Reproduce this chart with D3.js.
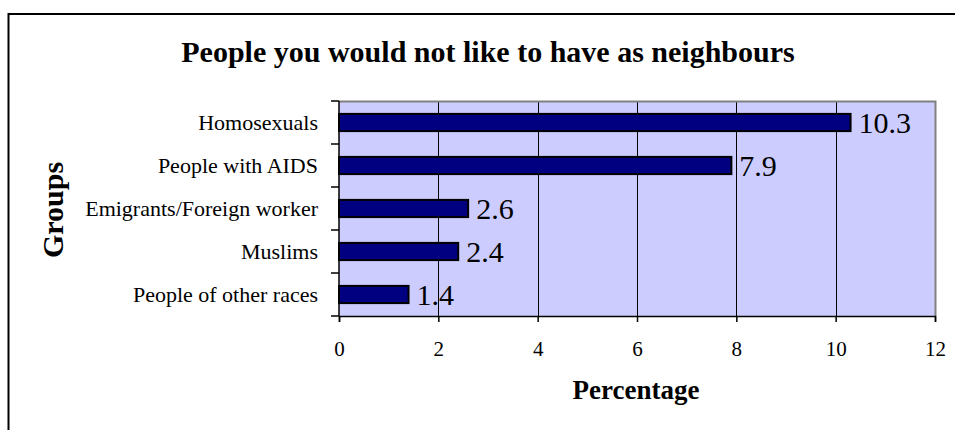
<!DOCTYPE html>
<html>
<head>
<meta charset="utf-8">
<script src="https://cdn.jsdelivr.net/npm/d3@7/dist/d3.min.js"></script>
<style>
  html, body { margin: 0; padding: 0; background: #fff; }
  svg { display: block; font-family: "Liberation Serif", "Times New Roman", serif; }
</style>
</head>
<body>
<svg id="chart" width="955" height="430"></svg>
<script>
// Survey data: share of respondents who would not want each group as neighbours
const groups = ["Homosexuals", "People with AIDS", "Emigrants/Foreign worker", "Muslims", "People of other races"];
const percentages = [10.3, 7.9, 2.6, 2.4, 1.4];
const xTicks = [0, 2, 4, 6, 8, 10, 12];

const chartTitle = "People you would not like to have as neighbours";
const xTitle = "Percentage";
const yTitle = "Groups";

const svg = d3.select("#chart");

// Outer chart frame
svg.append("rect")
  .attr("x", 8.5).attr("y", 14)
  .attr("width", 960).attr("height", 430)
  .attr("fill", "#fff")
  .attr("stroke", "#000").attr("stroke-width", 2);

const plot = { left: 339, right: 935, top: 101, bottom: 316 };

const x = d3.scaleLinear().domain([0, 12]).range([plot.left, plot.right]);
const y = d3.scaleBand().domain(groups).range([plot.top, plot.bottom]).paddingInner(0.6).paddingOuter(0.3);
const band = d3.scaleBand().domain(groups).range([plot.top, plot.bottom]);

// Plot area background
svg.append("rect")
  .attr("x", plot.left).attr("y", plot.top)
  .attr("width", plot.right - plot.left).attr("height", plot.bottom - plot.top)
  .attr("fill", "#CCCCFF");

// Vertical gridlines
svg.append("g")
  .selectAll("line")
  .data(xTicks.filter(t => t > 0 && t < 12))
  .join("line")
  .attr("x1", d => Math.round(x(d)) + 0.5).attr("x2", d => Math.round(x(d)) + 0.5)
  .attr("y1", plot.top).attr("y2", plot.bottom)
  .attr("stroke", "#000").attr("stroke-width", 1);

// Plot area border (top and right)
svg.append("path")
  .attr("d", `M${plot.left},${plot.top + 0.5}H${plot.right + 0.5}V${plot.bottom}`)
  .attr("fill", "none").attr("stroke", "#808080").attr("stroke-width", 2);

// Bars
svg.append("g")
  .selectAll("rect")
  .data(percentages)
  .join("rect")
  .attr("x", x(0))
  .attr("y", (d, i) => y(groups[i]))
  .attr("width", d => x(d) - x(0))
  .attr("height", y.bandwidth())
  .attr("fill", "#000080")
  .attr("stroke", "#000").attr("stroke-width", 2);

// Value labels
svg.append("g")
  .selectAll("text")
  .data(percentages)
  .join("text")
  .attr("x", d => x(d) + 8)
  .attr("y", (d, i) => y(groups[i]) + y.bandwidth() / 2)
  .attr("dy", "0.35em")
  .attr("font-size", 30)
  .attr("fill", "#000")
  .text(d => d);

// X axis
const xAxis = d3.axisBottom(x).tickValues(xTicks).tickSize(6).tickPadding(19).tickFormat(d3.format("d"));
const gx = svg.append("g")
  .attr("transform", `translate(0,${plot.bottom})`)
  .call(xAxis);
gx.select(".domain").attr("stroke", "#000").attr("stroke-width", 1.5);
gx.selectAll(".tick line").attr("stroke", "#000").attr("stroke-width", 1.5);
gx.selectAll(".tick text").attr("font-size", 21).attr("font-family", "Liberation Serif, serif").attr("fill", "#000");

// Y axis: category boundary ticks with centred labels
const gy = svg.append("g");
gy.append("line")
  .attr("x1", plot.left).attr("x2", plot.left)
  .attr("y1", plot.top).attr("y2", plot.bottom)
  .attr("stroke", "#000").attr("stroke-width", 1.5);
const boundaries = groups.map(g => band(g)).concat([plot.bottom]);
gy.selectAll("line.tick")
  .data(boundaries)
  .join("line")
  .attr("class", "tick")
  .attr("x1", plot.left - 8).attr("x2", plot.left)
  .attr("y1", d => d).attr("y2", d => d)
  .attr("stroke", "#000").attr("stroke-width", 1.5);
gy.selectAll("text")
  .data(groups)
  .join("text")
  .attr("x", 318)
  .attr("y", d => band(d) + band.bandwidth() / 2)
  .attr("dy", "0.35em")
  .attr("text-anchor", "end")
  .attr("font-size", 22)
  .attr("fill", "#000")
  .text(d => d);

// Titles
svg.append("text")
  .attr("x", 488).attr("y", 62)
  .attr("text-anchor", "middle")
  .attr("font-size", 30).attr("font-weight", "bold")
  .text(chartTitle);

svg.append("text")
  .attr("x", 636).attr("y", 399)
  .attr("text-anchor", "middle")
  .attr("font-size", 27).attr("font-weight", "bold")
  .text(xTitle);

svg.append("text")
  .attr("transform", "translate(63,210) rotate(-90)")
  .attr("text-anchor", "middle")
  .attr("font-size", 30).attr("font-weight", "bold")
  .text(yTitle);
</script>
</body>
</html>
